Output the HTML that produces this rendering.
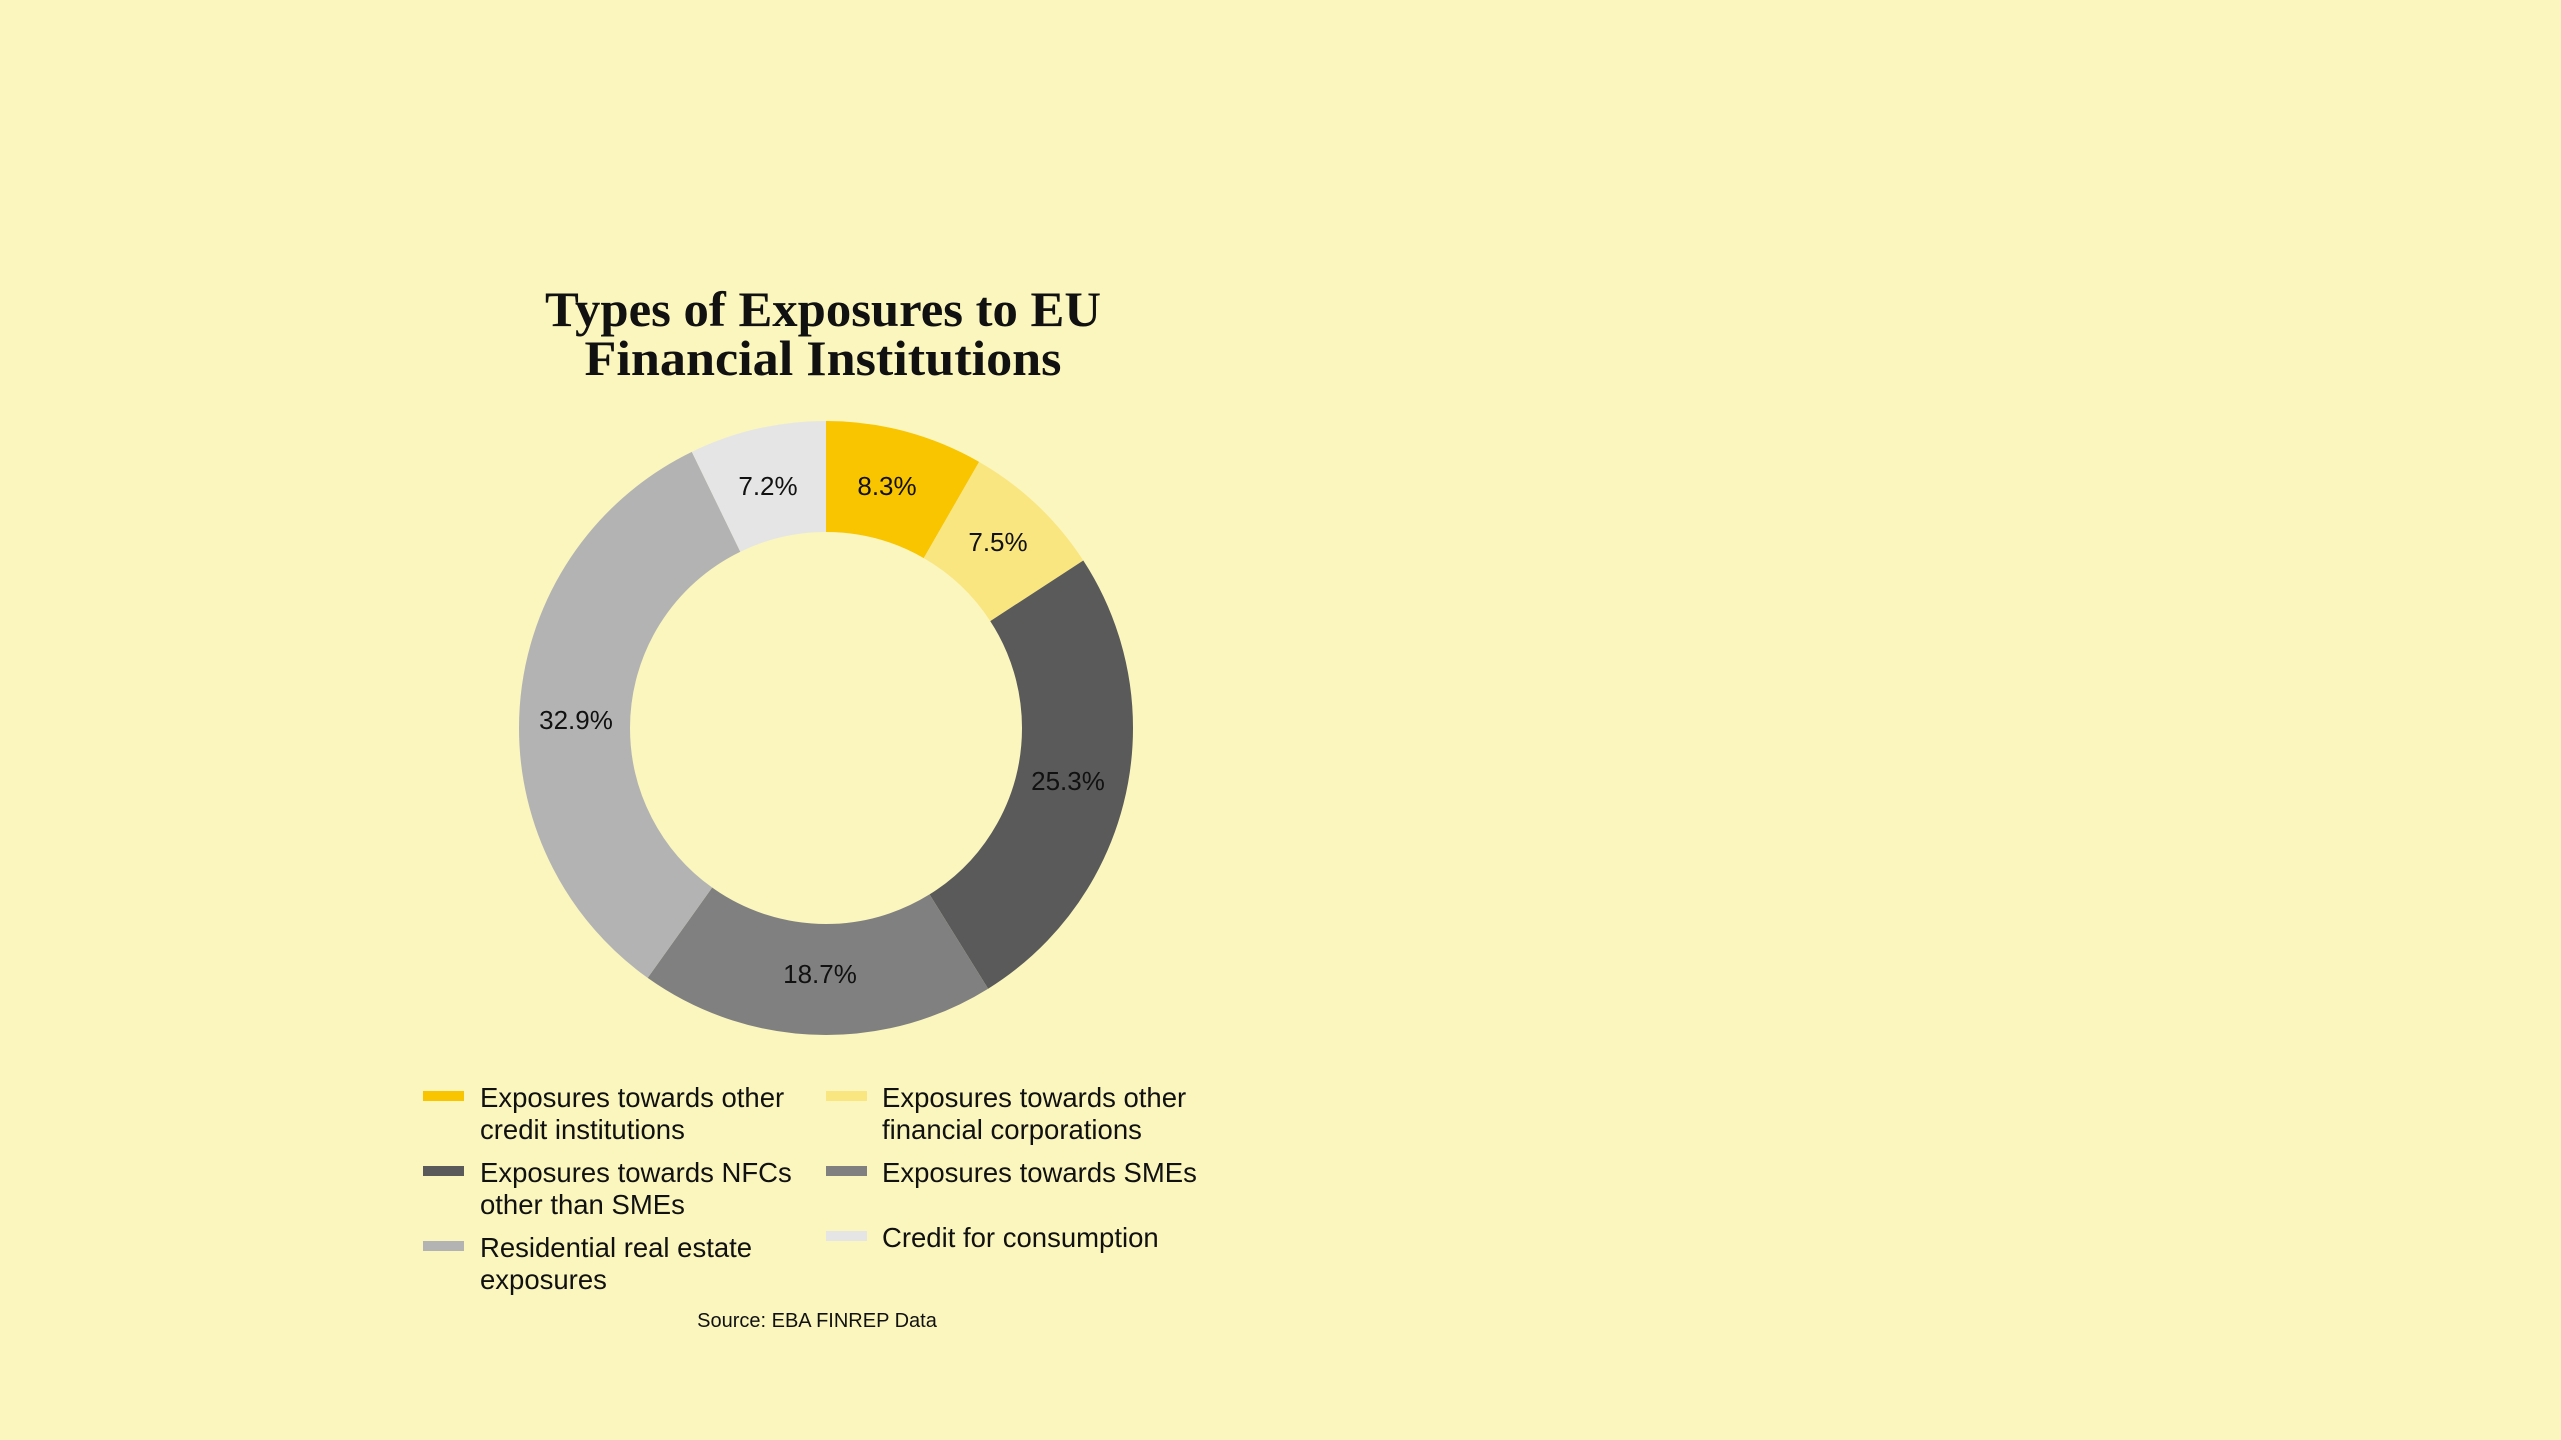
<!DOCTYPE html>
<html><head><meta charset="utf-8"><style>
html,body{margin:0;padding:0;background:#FAF6BE;}
svg{display:block;}
text{font-family:"Liberation Sans",sans-serif;fill:#111;}
.t{font-family:"Liberation Serif",serif;font-weight:bold;font-size:50px;}
.l{font-size:27.5px;}
.p{font-size:26px;}
</style></head><body>
<svg width="2561" height="1440" viewBox="0 0 2561 1440" xmlns="http://www.w3.org/2000/svg">
<rect width="2561" height="1440" fill="#FAF6BE"/>
<text class="t" x="823" y="326" text-anchor="middle" textLength="556" lengthAdjust="spacingAndGlyphs">Types of Exposures to EU</text>
<text class="t" x="823" y="375" text-anchor="middle" textLength="477" lengthAdjust="spacingAndGlyphs">Financial Institutions</text>
<g transform="translate(826,728) rotate(-90)" fill="none" stroke-width="111">
<circle r="251.5" stroke="#F9C400" stroke-dasharray="131.3 2000" stroke-dashoffset="0"/>
<circle r="251.5" stroke="#FAE680" stroke-dasharray="118.6 2000" stroke-dashoffset="-131.3"/>
<circle r="251.5" stroke="#5A5A5A" stroke-dasharray="400.2 2000" stroke-dashoffset="-249.9"/>
<circle r="251.5" stroke="#808080" stroke-dasharray="295.8 2000" stroke-dashoffset="-650.1"/>
<circle r="251.5" stroke="#B3B3B3" stroke-dasharray="520.4 2000" stroke-dashoffset="-945.9"/>
<circle r="251.5" stroke="#E5E5E5" stroke-dasharray="114.0 2000" stroke-dashoffset="-1466.3"/>
</g>
<g class="p" text-anchor="middle" dominant-baseline="central">
<text class="p" x="887" y="486">8.3%</text>
<text class="p" x="998" y="542">7.5%</text>
<text class="p" x="1068" y="781">25.3%</text>
<text class="p" x="820" y="974">18.7%</text>
<text class="p" x="576" y="720">32.9%</text>
<text class="p" x="768" y="486">7.2%</text>
</g>
<rect x="423" y="1091" width="41" height="10" fill="#F9C400"/>
<rect x="826" y="1091" width="41" height="10" fill="#FAE680"/>
<rect x="423" y="1166" width="41" height="10" fill="#5A5A5A"/>
<rect x="826" y="1166" width="41" height="10" fill="#808080"/>
<rect x="423" y="1241" width="41" height="10" fill="#B3B3B3"/>
<rect x="826" y="1231" width="41" height="10" fill="#E5E5E5"/>
<g class="l">
<text class="l" x="480" y="1107">Exposures towards other</text>
<text class="l" x="480" y="1139">credit institutions</text>
<text class="l" x="882" y="1107">Exposures towards other</text>
<text class="l" x="882" y="1139">financial corporations</text>
<text class="l" x="480" y="1182">Exposures towards NFCs</text>
<text class="l" x="480" y="1214">other than SMEs</text>
<text class="l" x="882" y="1182">Exposures towards SMEs</text>
<text class="l" x="480" y="1257">Residential real estate</text>
<text class="l" x="480" y="1289">exposures</text>
<text class="l" x="882" y="1247">Credit for consumption</text>
</g>
<text x="817" y="1327" text-anchor="middle" style="font-size:20px">Source: EBA FINREP Data</text>
</svg>
</body></html>
